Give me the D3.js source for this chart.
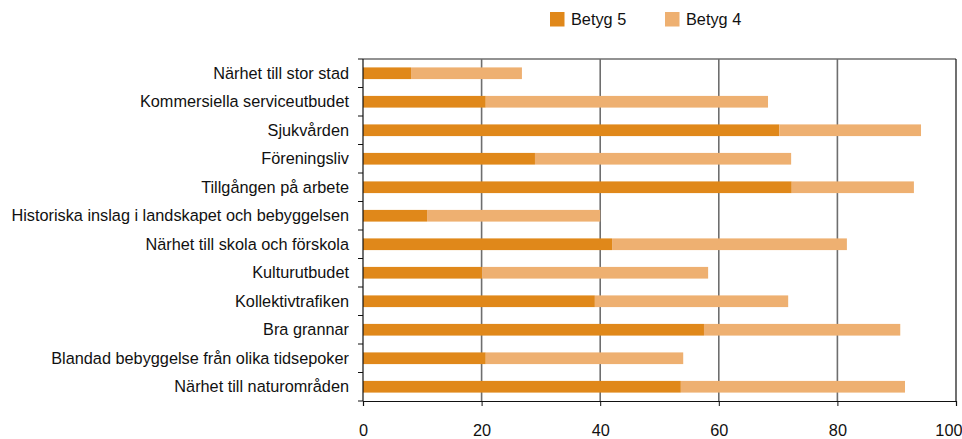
<!DOCTYPE html>
<html>
<head>
<meta charset="utf-8">
<script src="https://cdn.jsdelivr.net/npm/d3@7"></script>
<style>
  body { margin: 0; background: #fff; }
  svg { display: block; font-family: "Liberation Sans", Arial, sans-serif; }
</style>
</head>
<body>
<div id="chart"></div>
<script>
const categories = [
  "Närhet till stor stad",
  "Kommersiella serviceutbudet",
  "Sjukvården",
  "Föreningsliv",
  "Tillgången på arbete",
  "Historiska inslag i landskapet och bebyggelsen",
  "Närhet till skola och förskola",
  "Kulturutbudet",
  "Kollektivtrafiken",
  "Bra grannar",
  "Blandad bebyggelse från olika tidsepoker",
  "Närhet till naturområden"
];
const betyg5 = [8.1, 20.7, 70.2, 29.0, 72.3, 10.8, 42.0, 20.1, 39.1, 57.5, 20.7, 53.6];
const betyg4 = [18.7, 47.6, 23.9, 43.2, 20.6, 29.2, 39.6, 38.1, 32.6, 33.1, 33.3, 37.8];
const seriesNames = ["Betyg 5", "Betyg 4"];
const colors = ["#e0881a", "#eeb071"];
const xTicks = [0, 20, 40, 60, 80, 100];

const width = 962, height = 439;
const margin = { left: 363, right: 6, top: 59, bottom: 38 };
const fontSize = 16.3;

const svg = d3.select("#chart").append("svg")
  .attr("width", width).attr("height", height);

const x = d3.scaleLinear().domain([0, 100]).range([margin.left, width - margin.right]);
const y = d3.scaleBand().domain(categories)
  .range([margin.top, height - margin.bottom]).paddingInner(0.59).paddingOuter(0.295);

const rows = categories.map((c, i) => ({ cat: c, v: [betyg5[i], betyg4[i]] }));
const stacked = d3.stack().keys([0, 1]).value((d, k) => d.v[k])(rows);

// gridlines
svg.append("g")
  .selectAll("line")
  .data(xTicks.slice(1, -1))
  .join("line")
  .attr("x1", d => x(d)).attr("x2", d => x(d))
  .attr("y1", margin.top).attr("y2", height - margin.bottom)
  .attr("stroke", "#6e6e6e").attr("stroke-width", 1.6);

// frame top / right
svg.append("line")
  .attr("x1", margin.left).attr("x2", width - margin.right)
  .attr("y1", margin.top).attr("y2", margin.top)
  .attr("stroke", "#6e6e6e").attr("stroke-width", 1.6);
svg.append("line")
  .attr("x1", width - margin.right).attr("x2", width - margin.right)
  .attr("y1", margin.top).attr("y2", height - margin.bottom)
  .attr("stroke", "#111").attr("stroke-width", 1.2);

// bars
svg.append("g")
  .selectAll("g")
  .data(stacked)
  .join("g")
  .attr("fill", (d, i) => colors[i])
  .selectAll("rect")
  .data(d => d)
  .join("rect")
  .attr("x", d => x(d[0]))
  .attr("width", d => x(d[1]) - x(d[0]))
  .attr("y", d => y(d.data.cat))
  .attr("height", y.bandwidth());

// x axis
const xAxis = svg.append("g")
  .attr("transform", `translate(0,${height - margin.bottom})`)
  .call(d3.axisBottom(x).tickValues(xTicks).tickSize(5).tickPadding(18.5).tickFormat(d3.format("d")));
xAxis.select(".domain").attr("stroke", "#111").attr("stroke-width", 1.2);
xAxis.selectAll(".tick line").attr("stroke", "#111");
xAxis.selectAll("text").attr("font-size", fontSize).attr("fill", "#111")
  .attr("font-family", "'Liberation Sans', Arial, sans-serif");
// keep the last label inside the picture
xAxis.selectAll(".tick").filter(d => d === 100).select("text")
  .attr("text-anchor", "end").attr("x", 6);

// y axis: ticks between categories
const yAxisG = svg.append("g");
yAxisG.append("line")
  .attr("x1", margin.left).attr("x2", margin.left)
  .attr("y1", margin.top).attr("y2", height - margin.bottom)
  .attr("stroke", "#111").attr("stroke-width", 1.2);
const step = y.step();
yAxisG.selectAll("line.t")
  .data(d3.range(categories.length + 1))
  .join("line")
  .attr("class", "t")
  .attr("x1", margin.left - 5).attr("x2", margin.left)
  .attr("y1", i => margin.top + i * step).attr("y2", i => margin.top + i * step)
  .attr("stroke", "#111");
yAxisG.selectAll("text")
  .data(categories)
  .join("text")
  .attr("x", margin.left - 14)
  .attr("y", d => y(d) + y.bandwidth() / 2)
  .attr("dy", "0.35em")
  .attr("text-anchor", "end")
  .attr("font-size", fontSize)
  .attr("fill", "#111")
  .text(d => d);

// legend
const legend = svg.append("g");
const legX = [550, 665];
seriesNames.forEach((s, i) => {
  legend.append("rect")
    .attr("x", legX[i]).attr("y", 12).attr("width", 14.5).attr("height", 14.5)
    .attr("fill", colors[i]);
  legend.append("text")
    .attr("x", legX[i] + 21).attr("y", 19.5).attr("dy", "0.35em")
    .attr("font-size", fontSize).attr("fill", "#111")
    .text(s);
});
</script>
</body>
</html>
